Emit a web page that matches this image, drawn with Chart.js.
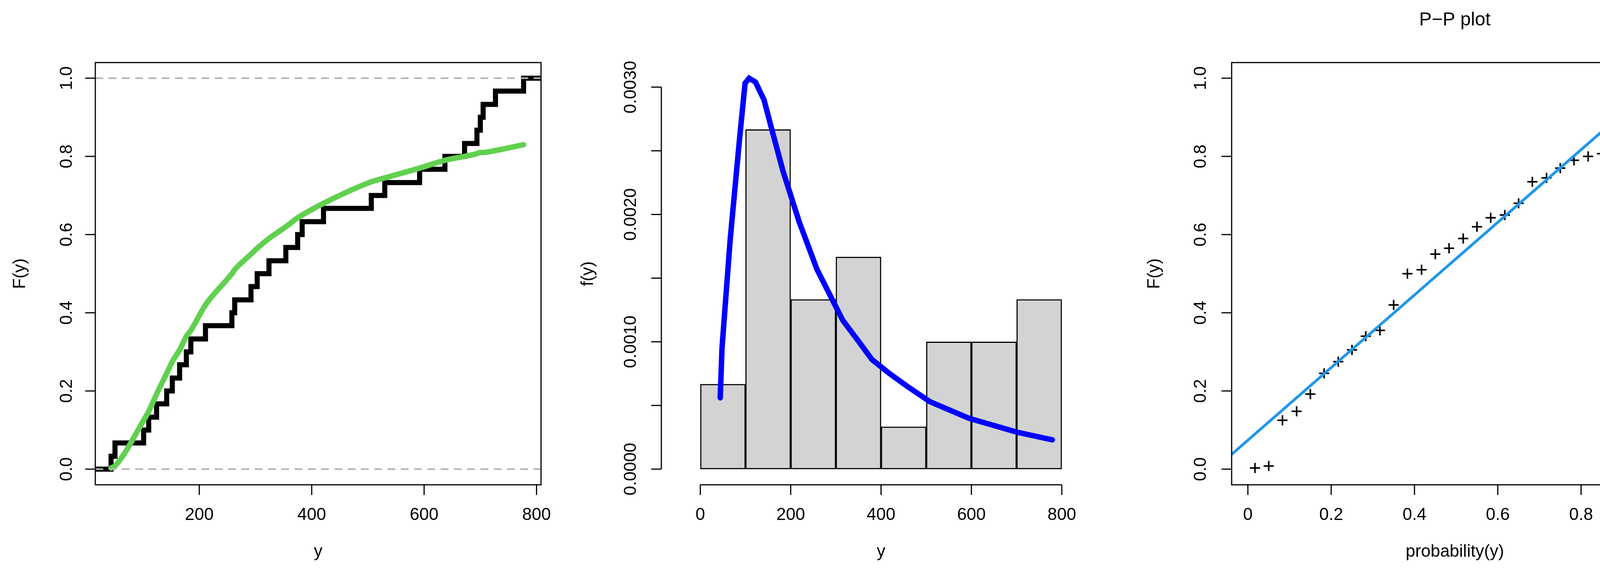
<!DOCTYPE html>
<html lang="en">
<head>
<meta charset="UTF-8">
<title>ECDF, density and P-P plot</title>
<script src="https://cdn.jsdelivr.net/npm/chart.js"></script>
<style>
  body { margin: 0; background: #fff; width: 4313px; height: 1504px; overflow: hidden; }
  canvas { position: absolute; left: 0; top: 0; }
</style>
</head>
<body>
<canvas id="cdf" width="4313" height="1504"></canvas>
<canvas id="dens" width="4313" height="1504"></canvas>
<canvas id="pp" width="4313" height="1504"></canvas>
<script>
// sorted observations (read from the ECDF jumps)
const obs = [43, 50, 101, 110, 124, 142, 152, 165, 177, 185, 211, 258, 263, 292, 303,
             324, 354, 375, 383, 421, 506, 530, 592, 637, 672, 694, 700, 705, 727, 777];
const ecdfX = [15, ...obs, 808];
const ecdfY = [0, 0.033, 0.067, 0.1, 0.133, 0.167, 0.2, 0.233, 0.267, 0.3, 0.333, 0.367, 0.4,
               0.433, 0.467, 0.5, 0.533, 0.567, 0.6, 0.633, 0.667, 0.7, 0.733, 0.767, 0.8,
               0.833, 0.867, 0.9, 0.933, 0.967, 1.0, 1.0];
// fitted CDF at each observation
const fitCdf = [0.003, 0.008, 0.125, 0.148, 0.192, 0.245, 0.275, 0.305, 0.34, 0.355,
                0.42, 0.5, 0.51, 0.55, 0.565, 0.59, 0.62, 0.643, 0.65, 0.68,
                0.735, 0.745, 0.77, 0.79, 0.80, 0.807, 0.81, 0.81, 0.815, 0.83];
// histogram
const binMid = [50, 150, 250, 350, 450, 550, 650, 750];
const binDens = [0.000667, 0.002667, 0.001333, 0.001667, 0.000333, 0.001, 0.001, 0.001333];
// fitted density curve
const densX = [44, 48, 66, 87, 99, 108, 122, 141, 158, 183, 201, 219, 237, 258, 298, 315,
               351, 380, 419, 458, 508, 594, 701, 779];
const densY = [0.00056, 0.00095, 0.0018, 0.0026, 0.00303, 0.00307, 0.00304, 0.0029, 0.00267,
               0.00234, 0.00214, 0.00194, 0.00177, 0.00157, 0.00129, 0.00117, 0.001, 0.00086,
               0.00075, 0.00065, 0.00053, 0.0004, 0.00029, 0.00023];
// P-P plot
const ppProb = [0.017, 0.05, 0.083, 0.117, 0.15, 0.183, 0.217, 0.25, 0.283, 0.317, 0.35, 0.383,
                0.417, 0.45, 0.483, 0.517, 0.55, 0.583, 0.617, 0.65, 0.683, 0.717, 0.75, 0.783,
                0.817, 0.85, 0.883, 0.917, 0.95, 0.983];
const ppLineX = [-0.04, 1.04];
const ppLineY = [0.037, 1.04];

const cdfTicksX = [200, 400, 600, 800];
const cdfTicksY = [0, 0.2, 0.4, 0.6, 0.8, 1.0];
const densTicksX = [0, 200, 400, 600, 800];
const densTicksY = [0, 0.0005, 0.001, 0.0015, 0.002, 0.0025, 0.003];
const densLabelsY = ['0.0000', '', '0.0010', '', '0.0020', '', '0.0030'];
const ppTicks = [0, 0.2, 0.4, 0.6, 0.8, 1.0];

const FONT = '44px "Liberation Sans", Arial, sans-serif';
const W = 4313, H = 1504;

function pts(xs, ys) { return xs.map((x, i) => ({ x: x, y: ys[i] })); }

// R-style axes drawn from the chart's own scales
const rAxes = {
  id: 'rAxes',
  afterDraw(chart, args, o) {
    const c = chart.ctx, a = chart.chartArea, sx = chart.scales.x, sy = chart.scales.y;
    c.save();
    c.strokeStyle = '#000'; c.fillStyle = '#000'; c.lineWidth = 3; c.font = FONT;
    const xl = o.xLine, yl = o.yLine;
    if (o.box) c.strokeRect(a.left, a.top, a.right - a.left, a.bottom - a.top);
    else {
      c.beginPath();
      c.moveTo(sx.getPixelForValue(o.xt[0]), xl); c.lineTo(sx.getPixelForValue(o.xt[o.xt.length - 1]), xl);
      c.moveTo(yl, sy.getPixelForValue(o.yt[0])); c.lineTo(yl, sy.getPixelForValue(o.yt[o.yt.length - 1]));
      c.stroke();
    }
    c.textAlign = 'center'; c.textBaseline = 'middle';
    o.xt.forEach((v, i) => {
      const px = sx.getPixelForValue(v);
      c.beginPath(); c.moveTo(px, xl); c.lineTo(px, xl + 26); c.stroke();
      c.fillText(o.xl ? o.xl[i] : String(v), px, 1318);
    });
    o.yt.forEach((v, i) => {
      const py = sy.getPixelForValue(v);
      c.beginPath(); c.moveTo(yl, py); c.lineTo(yl - 26, py); c.stroke();
      const lab = o.yl ? o.yl[i] : v.toFixed(1);
      if (lab) {
        c.save(); c.translate(o.yLabX, py); c.rotate(-Math.PI / 2); c.fillText(lab, 0, 0); c.restore();
      }
    });
    c.fillText(o.xTitle, (a.left + a.right) / 2, 1412);
    c.save(); c.translate(o.yTitleX, (a.top + a.bottom) / 2); c.rotate(-Math.PI / 2);
    c.fillText(o.yTitle, 0, 0); c.restore();
    if (o.title) { c.font = '48px "Liberation Sans", Arial, sans-serif'; c.fillText(o.title, (a.left + a.right) / 2, 52); }
    c.restore();
  }
};

function base(pad, xr, yr, axes) {
  return {
    responsive: false, animation: false,
    layout: { padding: { left: pad[0], top: pad[1], right: W - pad[2], bottom: H - pad[3] } },
    plugins: { legend: { display: false }, tooltip: { enabled: false }, rAxes: axes },
    scales: {
      x: { type: 'linear', display: false, min: xr[0], max: xr[1] },
      y: { type: 'linear', display: false, min: yr[0], max: yr[1] }
    }
  };
}

new Chart(document.getElementById('cdf'), {
  type: 'line',
  data: { datasets: [
    { data: pts([15, 808], [0, 0]), borderColor: '#B3B3B3', borderWidth: 4, borderDash: [20, 14], pointRadius: 0 },
    { data: pts([15, 808], [1, 1]), borderColor: '#B3B3B3', borderWidth: 4, borderDash: [20, 14], pointRadius: 0 },
    { data: pts(obs, fitCdf), borderColor: '#61D04F', borderWidth: 14, pointRadius: 0, borderCapStyle: 'round', cubicInterpolationMode: 'monotone' },
    { data: pts(ecdfX, ecdfY), borderColor: '#000', borderWidth: 13, pointRadius: 0, stepped: 'before' }
  ] },
  options: base([244, 160, 1385, 1240], [15, 808], [-0.04, 1.04],
    { box: true, xLine: 1240, yLine: 244, xt: cdfTicksX, yt: cdfTicksY, yLabX: 172,
      xTitle: 'y', yTitle: 'F(y)', yTitleX: 52 }),
  plugins: [rAxes]
});

new Chart(document.getElementById('dens'), {
  data: { datasets: [
    { type: 'bar', data: pts(binMid, binDens), backgroundColor: '#D3D3D3', borderColor: '#000',
      borderWidth: 3, borderSkipped: false, barPercentage: 1, categoryPercentage: 1, order: 2 },
    { type: 'line', data: pts(densX, densY), borderColor: '#0000FF', borderWidth: 14,
      borderCapStyle: 'round', pointRadius: 0, order: 1 }
  ] },
  options: base([1735, 160, 2776, 1240], [0, 800], [-0.000123, 0.003193],
    { box: false, xLine: 1240, yLine: 1693, xt: densTicksX, yt: densTicksY, yl: densLabelsY,
      yLabX: 1616, xTitle: 'y', yTitle: 'f(y)', yTitleX: 1506 }),
  plugins: [rAxes]
});

new Chart(document.getElementById('pp'), {
  type: 'line',
  data: { datasets: [
    { data: pts(ppLineX, ppLineY), borderColor: '#2297E6', borderWidth: 7, pointRadius: 0 },
    { data: pts(ppProb, fitCdf), showLine: false, pointStyle: 'cross', pointRadius: 13,
      pointBorderWidth: 4, pointBorderColor: '#000', borderColor: '#000' }
  ] },
  options: base([3153, 160, 4309, 1240], [-0.039, 1.033], [-0.04, 1.04],
    { box: true, xLine: 1240, yLine: 3153, xt: ppTicks, yt: ppTicks, yLabX: 3075,
      xTitle: 'probability(y)', yTitle: 'F(y)', yTitleX: 2956, title: 'P\u2212P plot' }),
  plugins: [rAxes]
});
</script>
</body>
</html>
